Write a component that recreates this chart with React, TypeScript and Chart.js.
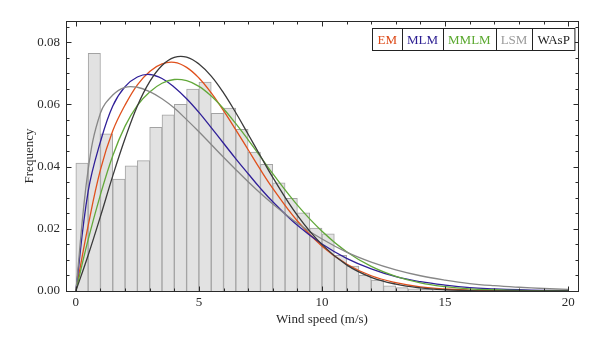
import React, { useEffect, useRef } from "react";
import { Chart, registerables } from "chart.js";

Chart.register(...registerables);

// Histogram: bin centres (m/s) and observed frequency per 0.5 m/s bin
const binCenters = [
  0.25, 0.75, 1.25, 1.75, 2.25, 2.75, 3.25, 3.75, 4.25, 4.75,
  5.25, 5.75, 6.25, 6.75, 7.25, 7.75, 8.25, 8.75, 9.25, 9.75,
  10.25, 10.75, 11.25, 11.75, 12.25, 12.75, 13.25, 13.75, 14.25, 14.75,
  15.25, 15.75, 16.25, 16.75, 17.25, 17.75, 18.25, 18.75, 19.25, 19.75,
];
const frequency = [
  0.0411, 0.0764, 0.0505, 0.036, 0.0402, 0.0419, 0.0526, 0.0566, 0.06, 0.0649,
  0.0672, 0.0571, 0.0588, 0.052, 0.0447, 0.0407, 0.0348, 0.0298, 0.0251, 0.0202,
  0.0184, 0.0115, 0.008, 0.0051, 0.0035, 0.0017, 0.0011, 0.0007, 0.0005, 0.0004,
  0.0003, 0.0003, 0.0002, 0.0002, 0.0001, 0.0001, 0.0001, 0.0001, 0.0001, 0.0001,
];

// Fitted distribution curves, sampled at these wind speeds
const curveSpeeds = [
  0, 0.5, 1, 1.5, 2, 2.5, 3, 3.5, 4, 4.5, 5, 5.5, 6, 6.5, 7, 7.5, 8,
  9, 10, 11, 12, 13, 14, 15, 16, 17, 18, 19, 20,
];
const emValues = [
  0, 0.021, 0.039, 0.0515, 0.0598, 0.0663, 0.0706, 0.073, 0.0735, 0.0719, 0.0685, 0.0637, 0.058, 0.0518, 0.0454, 0.039, 0.033,
  0.0225, 0.0144, 0.0087, 0.0049, 0.0027, 0.00135, 0.00065, 0.0003, 0.00013, 0.00005, 0.00002, 0.00001,
];
const mlmValues = [
  0, 0.032, 0.048, 0.0595, 0.0657, 0.0688, 0.0696, 0.0683, 0.0655, 0.0618, 0.0574, 0.0525, 0.0475, 0.0425, 0.0377, 0.033, 0.0287,
  0.0211, 0.0151, 0.0105, 0.0071, 0.0046, 0.003, 0.0019, 0.0011, 0.0007, 0.0004, 0.0002, 0.0001,
];
const mmlmValues = [
  0, 0.0165, 0.031, 0.0435, 0.053, 0.0597, 0.064, 0.0668, 0.0680, 0.0676, 0.0658, 0.0627, 0.0586, 0.0538, 0.0486, 0.0432, 0.0377,
  0.0276, 0.0192, 0.0126, 0.0079, 0.0047, 0.0026, 0.0014, 0.0007, 0.0004, 0.0002, 0.0001, 0.00004,
];
const lsmValues = [
  0, 0.039, 0.0572, 0.063, 0.0655, 0.0655, 0.0641, 0.0618, 0.0588, 0.0551, 0.0512, 0.0471, 0.043, 0.039, 0.0351, 0.0314, 0.028,
  0.0218, 0.0167, 0.0125, 0.0093, 0.0068, 0.0049, 0.0035, 0.0024, 0.0017, 0.0012, 0.0008, 0.0005,
];
const waspValues = [
  0, 0.0115, 0.024, 0.037, 0.049, 0.0595, 0.0673, 0.0725, 0.0751, 0.0752, 0.073, 0.0691, 0.0637, 0.0573, 0.0504, 0.0434, 0.0365,
  0.0243, 0.0149, 0.0084, 0.0044, 0.0022, 0.001, 0.0004, 0.00015, 0.00005, 0.00002, 0, 0,
];

const seriesLabels = ["EM", "MLM", "MMLM", "LSM", "WAsP"];
const xTickValues = [0, 5, 10, 15, 20];
const yTickValues = [0, 0.02, 0.04, 0.06, 0.08];

const lineColors = ["#e0501c", "#2f1f98", "#62a83a", "#878787", "#3a3a3a"];
const legendTextColors = ["#dd4a18", "#2c1e92", "#5aa82e", "#9a9a9a", "#1e1e1e"];
const FONT = '"Liberation Serif", "DejaVu Serif", serif';

const framePlugin = {
  id: "frameAndLegend",
  afterDraw(chart: any) {
    const { ctx, chartArea: a, scales } = chart;
    const xs = scales.x;
    const ys = scales.y;
    ctx.save();
    ctx.strokeStyle = "#2a2a2a";
    ctx.lineWidth = 1;
    const L = Math.round(a.left) + 0.5;
    const R = Math.round(a.right) + 0.5;
    const T = Math.round(a.top) + 0.5;
    const B = Math.round(a.bottom) + 0.5;
    ctx.strokeRect(L, T, R - L, B - T);
    ctx.beginPath();
    for (let v = 0; v <= 20; v += 1) {
      const px = Math.round(xs.getPixelForValue(v)) + 0.5;
      const len = v % 5 === 0 ? 5 : 3;
      ctx.moveTo(px, B);
      ctx.lineTo(px, B - len);
      ctx.moveTo(px, T);
      ctx.lineTo(px, T + len);
    }
    for (let i = 0; i <= 17; i++) {
      const py = Math.round(ys.getPixelForValue(i * 0.005)) + 0.5;
      const len = i % 4 === 0 ? 5 : 3;
      ctx.moveTo(L, py);
      ctx.lineTo(L + len, py);
      ctx.moveTo(R, py);
      ctx.lineTo(R - len, py);
    }
    ctx.stroke();

    // legend boxes
    const items = chart.data.datasets.filter((d: any) => d.type === "line");
    ctx.font = "13px " + FONT;
    const padX = 5;
    const widths = items.map((d: any) => ctx.measureText(d.label).width + padX * 2);
    const total = widths.reduce((s: number, w: number) => s + w, 0);
    const right = R - 4;
    const top = T + 7;
    const h = 22;
    let x = Math.round(right - total) + 0.5;
    ctx.fillStyle = "#ffffff";
    ctx.fillRect(x, top, total, h);
    ctx.strokeStyle = "#222";
    ctx.strokeRect(x, top, total, h);
    ctx.textAlign = "center";
    ctx.textBaseline = "middle";
    items.forEach((d: any, i: number) => {
      const w = widths[i];
      if (i > 0) {
        ctx.beginPath();
        ctx.moveTo(Math.round(x) + 0.5, top);
        ctx.lineTo(Math.round(x) + 0.5, top + h);
        ctx.stroke();
      }
      ctx.fillStyle = d.legendColor;
      ctx.fillText(d.label, x + w / 2, top + h / 2 + 1);
      x += w;
    });
    ctx.restore();
  },
};

export default function App() {
  const canvasRef = useRef<HTMLCanvasElement | null>(null);

  useEffect(() => {
    if (!canvasRef.current) return;
    Chart.defaults.font.family = FONT;
    Chart.defaults.color = "#2a2a2a";

    const curveSets = [emValues, mlmValues, mmlmValues, lsmValues, waspValues];
    const lineDatasets = curveSets.map((vals, i) => ({
      type: "line" as const,
      label: seriesLabels[i],
      data: curveSpeeds.map((s, j) => ({ x: s, y: vals[j] })),
      borderColor: lineColors[i],
      legendColor: legendTextColors[i],
      borderWidth: 1.3,
      pointRadius: 0,
      fill: false,
      tension: 0.4,
      order: 5 - i,
    }));

    const chart = new Chart(canvasRef.current, {
      data: {
        datasets: [
          {
            type: "bar" as const,
            label: "Observed",
            data: binCenters.map((c, i) => ({ x: c, y: frequency[i] })),
            backgroundColor: "#e2e2e2",
            borderColor: "#a3a3a3",
            borderWidth: 1,
            barPercentage: 1,
            categoryPercentage: 1,
            order: 10,
          } as any,
          ...lineDatasets,
        ],
      },
      options: {
        responsive: false,
        animation: false,
        layout: { padding: { top: 21, right: 22, left: 0, bottom: 0 } },
        plugins: {
          legend: { display: false },
          tooltip: { enabled: false },
        },
        scales: {
          x: {
            type: "linear",
            min: -0.4,
            max: 20.4,
            offset: false,
            grid: { display: false, drawTicks: false, offset: false },
            border: { display: false },
            afterBuildTicks: (s: any) => {
              s.ticks = xTickValues.map((v) => ({ value: v }));
            },
            afterFit: (s: any) => {
              s.height = 56;
            },
            ticks: {
              font: { size: 13 },
              color: "#2a2a2a",
              padding: 4,
              maxRotation: 0,
              callback: (v: any) => String(v),
            },
            title: {
              display: true,
              text: "Wind speed (m/s)",
              font: { size: 13 },
              color: "#2a2a2a",
              padding: { top: 0, bottom: 20 },
            },
          },
          y: {
            type: "linear",
            min: 0,
            max: 0.0868,
            grid: { display: false, drawTicks: false },
            border: { display: false },
            afterBuildTicks: (s: any) => {
              s.ticks = yTickValues.map((v) => ({ value: v }));
            },
            afterFit: (s: any) => {
              s.width = 66;
            },
            ticks: {
              font: { size: 13 },
              color: "#2a2a2a",
              padding: 6,
              callback: (v: any) => Number(v).toFixed(2),
            },
            title: {
              display: true,
              text: "Frequency",
              font: { size: 13 },
              color: "#2a2a2a",
              padding: { top: 22, bottom: 0 },
            },
          },
        },
      },
      plugins: [framePlugin],
    } as any);

    return () => chart.destroy();
  }, []);

  return (
    <div style={{ position: "absolute", left: 0, top: 0, width: 600, height: 347, background: "#fff" }}>
      <canvas ref={canvasRef} width={600} height={347} style={{ width: 600, height: 347, display: "block" }} />
    </div>
  );
}
